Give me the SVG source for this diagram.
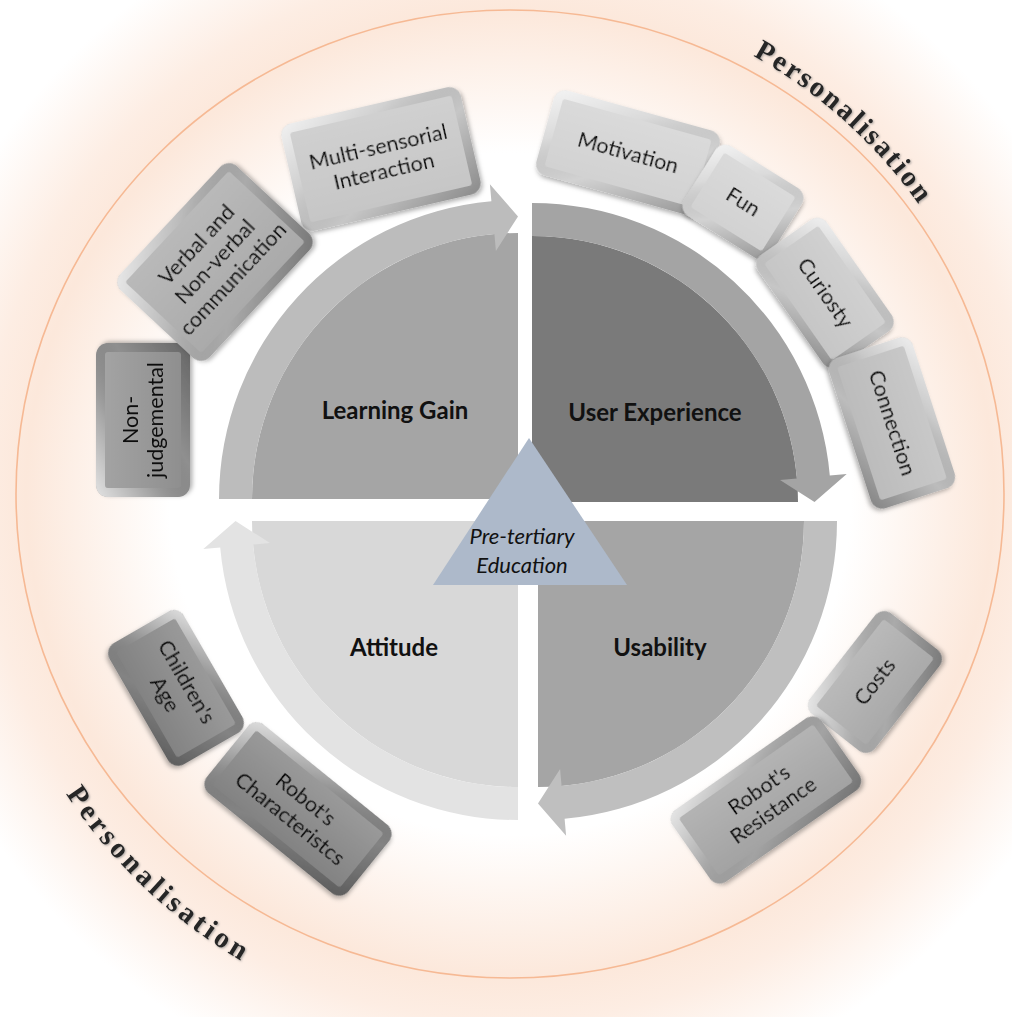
<svg xmlns="http://www.w3.org/2000/svg" xmlns:xlink="http://www.w3.org/1999/xlink" width="1012" height="1017" viewBox="0 0 1012 1017">
<style>
.lbl{font-family:Lato,"Liberation Sans",sans-serif;font-weight:700;font-size:24px;fill:#111;text-anchor:middle}
.bt{font-family:Lato,"Liberation Sans",sans-serif;font-size:21.5px;fill:#111;text-anchor:middle}
.ctr{font-family:Lato,"Liberation Sans",sans-serif;font-style:italic;font-size:22px;fill:#111;text-anchor:middle}
.pers{font-family:"Liberation Serif","DejaVu Serif",serif;font-size:29px;font-weight:700;fill:#262626}
.bev{fill:url(#bevel)}
.sheen{fill:url(#sheen)}
.c1{fill:#d2d2d2}.c2{fill:#c6c6c6}.c3{fill:#bcbcbc}.c4{fill:#aaaaaa}.c5{fill:#8f8f8f}.c6{fill:#838383}.c7{fill:#a3a3a3}
</style>
<defs>
<radialGradient id="glow" gradientUnits="userSpaceOnUse" cx="510" cy="494" r="620">
<stop offset="0" stop-color="#ffffff"/>
<stop offset="0.55" stop-color="#ffffff"/>
<stop offset="0.78" stop-color="#fce8db"/>
<stop offset="0.85" stop-color="#fdede3"/>
<stop offset="1" stop-color="#ffffff"/>
</radialGradient>
<linearGradient id="bevel" x1="0" y1="0" x2="1" y2="1">
<stop offset="0" stop-color="#fff" stop-opacity="0.75"/>
<stop offset="0.3" stop-color="#fff" stop-opacity="0.2"/>
<stop offset="0.6" stop-color="#000" stop-opacity="0"/>
<stop offset="1" stop-color="#000" stop-opacity="0.3"/>
</linearGradient>
<linearGradient id="sheen" x1="0" y1="0" x2="0" y2="1">
<stop offset="0" stop-color="#fff" stop-opacity="0.18"/>
<stop offset="1" stop-color="#fff" stop-opacity="0"/>
</linearGradient>
<filter id="sh" x="-20%" y="-20%" width="140%" height="140%">
<feDropShadow dx="1.5" dy="2.5" stdDeviation="2" flood-color="#000" flood-opacity="0.3"/>
</filter>
<filter id="tsh" x="-10%" y="-10%" width="120%" height="120%">
<feDropShadow dx="1" dy="1" stdDeviation="1.2" flood-color="#777" flood-opacity="0.6"/>
</filter>
<path id="band" d="M-299 0A299 299 0 0 1-26.6-297.8L-28.1-314.7L0-282.5L-22.1-248L-23.6-264.9A266 266 0 0 0-266 0Z"/>
<path id="pie" d="M0 0L-266 0A266 266 0 0 1 0-266Z"/>
<path id="arcTR" d="M752.9 55.8A501 501 0 0 1 943.9 243.5"/>
<path id="arcBL" d="M65.7 793.7A536 536 0 0 0 254.6 968.4"/>
</defs>

<g id="background">
<rect width="1012" height="1017" fill="#ffffff"/>
<rect width="1012" height="1017" fill="url(#glow)"/>
<ellipse cx="510" cy="494" rx="494" ry="484" fill="none" stroke="#f6b994" stroke-width="1.6"/>
</g>

<g id="personalisation">
<text class="pers" filter="url(#tsh)"><textPath xlink:href="#arcTR" textLength="224" lengthAdjust="spacing">Personalisation</textPath></text>
<text class="pers" filter="url(#tsh)"><textPath xlink:href="#arcBL" textLength="244" lengthAdjust="spacing">Personalisation</textPath></text>
</g>

<g id="quadrants">
<g id="learning-gain">
<use xlink:href="#pie" transform="translate(518,499)" fill="#a5a5a5"/>
<text class="lbl" x="395" y="419">Learning Gain</text>
</g>
<g id="user-experience">
<use xlink:href="#pie" transform="translate(532,502) rotate(90)" fill="#7a7a7a"/>
<text class="lbl" x="655" y="421">User Experience</text>
</g>
<g id="usability">
<use xlink:href="#pie" transform="translate(538,521) rotate(180)" fill="#a5a5a5"/>
<text class="lbl" x="660" y="656">Usability</text>
</g>
<g id="attitude">
<use xlink:href="#pie" transform="translate(518,521) rotate(270)" fill="#d8d8d8"/>
<text class="lbl" x="394" y="656">Attitude</text>
</g>
</g>

<g id="connectors">
<use xlink:href="#band" transform="translate(518,499)" fill="#bcbcbc"/>
<use xlink:href="#band" transform="translate(532,502) rotate(90)" fill="#a4a4a4"/>
<use xlink:href="#band" transform="translate(538,521) rotate(180)" fill="#bfbfbf"/>
<use xlink:href="#band" transform="translate(518,521) rotate(270)" fill="#e3e3e3"/>
</g>

<g id="pre-tertiary-education">
<polygon points="529,438 433,585 627,585" fill="#adb9ca"/>
<text class="ctr" x="522" y="544">Pre-tertiary</text>
<text class="ctr" x="522" y="573">Education</text>
</g>

<g id="boxes">
<g id="box-nonjudgemental" filter="url(#sh)" transform="translate(143,420) rotate(-90)">
<rect class="c5" x="-77" y="-47" width="154" height="94" rx="12"/>
<rect class="bev" x="-77" y="-47" width="154" height="94" rx="12"/>
<rect class="c5" x="-68" y="-38" width="136" height="76" rx="3"/>
<rect class="sheen" x="-68" y="-38" width="136" height="76" rx="3"/>
<text class="bt" y="-5">Non-</text>
<text class="bt" y="20">judgemental</text>
</g>
<g id="box-multisensorial" filter="url(#sh)" transform="translate(381,159) rotate(-13)">
<rect class="c2" x="-92" y="-55" width="184" height="110" rx="12"/>
<rect class="bev" x="-92" y="-55" width="184" height="110" rx="12"/>
<rect class="c2" x="-83" y="-46" width="166" height="92" rx="3"/>
<rect class="sheen" x="-83" y="-46" width="166" height="92" rx="3"/>
<text class="bt" y="-5">Multi-sensorial</text>
<text class="bt" y="20">Interaction</text>
</g>
<g id="box-verbal" filter="url(#sh)" transform="translate(215,262) rotate(-47)">
<rect class="c4" x="-85" y="-61" width="170" height="122" rx="12"/>
<rect class="bev" x="-85" y="-61" width="170" height="122" rx="12"/>
<rect class="c4" x="-76" y="-52" width="152" height="104" rx="3"/>
<rect class="sheen" x="-76" y="-52" width="152" height="104" rx="3"/>
<text class="bt" y="-18">Verbal and</text>
<text class="bt" y="7">Non-verbal</text>
<text class="bt" y="32">communication</text>
</g>
<g id="box-motivation" filter="url(#sh)" transform="translate(628,153) rotate(15.5)">
<rect class="c1" x="-86" y="-44" width="172" height="88" rx="12"/>
<rect class="bev" x="-86" y="-44" width="172" height="88" rx="12"/>
<rect class="c1" x="-77" y="-35" width="154" height="70" rx="3"/>
<rect class="sheen" x="-77" y="-35" width="154" height="70" rx="3"/>
<text class="bt" y="7">Motivation</text>
</g>
<g id="box-fun" filter="url(#sh)" transform="translate(743,202) rotate(32)">
<rect class="c1" x="-51" y="-41" width="102" height="82" rx="12"/>
<rect class="bev" x="-51" y="-41" width="102" height="82" rx="12"/>
<rect class="c1" x="-42" y="-32" width="84" height="64" rx="3"/>
<rect class="sheen" x="-42" y="-32" width="84" height="64" rx="3"/>
<text class="bt" y="7">Fun</text>
</g>
<g id="box-curiosty" filter="url(#sh)" transform="translate(825,293) rotate(55)">
<rect class="c2" x="-68" y="-42" width="136" height="84" rx="12"/>
<rect class="bev" x="-68" y="-42" width="136" height="84" rx="12"/>
<rect class="c2" x="-59" y="-33" width="118" height="66" rx="3"/>
<rect class="sheen" x="-59" y="-33" width="118" height="66" rx="3"/>
<text class="bt" y="7">Curiosty</text>
</g>
<g id="box-connection" filter="url(#sh)" transform="translate(892,423) rotate(72)">
<rect class="c3" x="-79" y="-44" width="158" height="88" rx="12"/>
<rect class="bev" x="-79" y="-44" width="158" height="88" rx="12"/>
<rect class="c3" x="-70" y="-35" width="140" height="70" rx="3"/>
<rect class="sheen" x="-70" y="-35" width="140" height="70" rx="3"/>
<text class="bt" y="7">Connection</text>
</g>
<g id="box-costs" filter="url(#sh)" transform="translate(875,682) rotate(-52)">
<rect class="c4" x="-64" y="-41" width="128" height="82" rx="12"/>
<rect class="bev" x="-64" y="-41" width="128" height="82" rx="12"/>
<rect class="c4" x="-55" y="-32" width="110" height="64" rx="3"/>
<rect class="sheen" x="-55" y="-32" width="110" height="64" rx="3"/>
<text class="bt" y="7">Costs</text>
</g>
<g id="box-resistance" filter="url(#sh)" transform="translate(766,800) rotate(-35)">
<rect class="c7" x="-91" y="-44" width="182" height="88" rx="12"/>
<rect class="bev" x="-91" y="-44" width="182" height="88" rx="12"/>
<rect class="c7" x="-82" y="-35" width="164" height="70" rx="3"/>
<rect class="sheen" x="-82" y="-35" width="164" height="70" rx="3"/>
<text class="bt" y="-5">Robot's</text>
<text class="bt" y="20">Resistance</text>
</g>
<g id="box-childrens-age" filter="url(#sh)" transform="translate(176,688) rotate(60)">
<rect class="c6" x="-70" y="-43" width="140" height="86" rx="12"/>
<rect class="bev" x="-70" y="-43" width="140" height="86" rx="12"/>
<rect class="c6" x="-61" y="-34" width="122" height="68" rx="3"/>
<rect class="sheen" x="-61" y="-34" width="122" height="68" rx="3"/>
<text class="bt" y="-5">Children's</text>
<text class="bt" y="20">Age</text>
</g>
<g id="box-characteristics" filter="url(#sh)" transform="translate(298,809) rotate(39)">
<rect class="c6" x="-91" y="-44" width="182" height="88" rx="12"/>
<rect class="bev" x="-91" y="-44" width="182" height="88" rx="12"/>
<rect class="c6" x="-82" y="-35" width="164" height="70" rx="3"/>
<rect class="sheen" x="-82" y="-35" width="164" height="70" rx="3"/>
<text class="bt" y="-5">Robot's</text>
<text class="bt" y="20">Characteristcs</text>
</g>
</g>
</svg>
